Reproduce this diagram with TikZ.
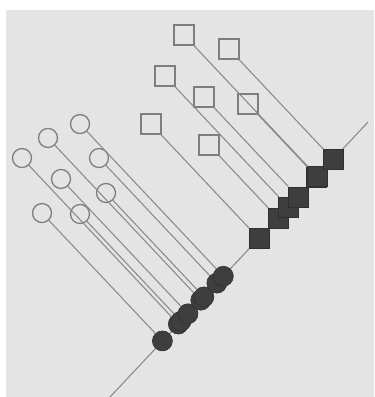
\documentclass[tikz,border=0pt]{standalone}
\begin{document}
\begin{tikzpicture}[x=1pt,y=-1.062pt,
  bg/.style={fill=bgray,draw=none},
  axisline/.style={draw=lgray,line width=1.1pt},
  proj/.style={draw=lgray,line width=1.1pt},
  opencirc/.style={circle,draw=mgray,line width=1.3pt,minimum size=19pt,inner sep=0pt},
  opensq/.style={rectangle,draw=mgray,line width=1.3pt,minimum size=20pt,inner sep=0pt},
  fullcirc/.style={circle,fill=dgray,draw=ddgray,line width=0.6pt,minimum size=20pt,inner sep=0pt},
  fullsq/.style={rectangle,fill=dgray,draw=ddgray,line width=0.6pt,minimum size=20pt,inner sep=0pt}]
\definecolor{bgray}{HTML}{E4E4E4}
\definecolor{lgray}{HTML}{8C8C8C}
\definecolor{mgray}{HTML}{7E7E7E}
\definecolor{dgray}{HTML}{3E3E3E}
\definecolor{ddgray}{HTML}{303030}
\useasboundingbox (0,0) rectangle (374,373.8);
\fill[bg] (6,9.4) rectangle (374,373.8);
% the 45-degree axis
\coordinate (a0) at (110,373.8);
\coordinate (a1) at (368,114.9);
\draw[axisline] (a0) -- (a1);
% open circles and their projections
\node[opencirc] (c1) at (80,116.8) {};
\node[opencirc] (c2) at (48,129.9) {};
\node[opencirc] (c3) at (22,148.8) {};
\node[opencirc] (c4) at (99,148.8) {};
\node[opencirc] (c5) at (61,168.5) {};
\node[opencirc] (c6) at (106,181.7) {};
\node[opencirc] (c7) at (42,200.6) {};
\node[opencirc] (c8) at (80,201.5) {};
\node[fullcirc] (p7) at (162.4,321) {};
\node[fullcirc] (p3) at (178.3,305.1) {};
\node[fullcirc] (p8) at (180.95,302.45) {};
\node[fullcirc] (p5) at (187.95,295.45) {};
\node[fullcirc] (p2) at (200.75,282.65) {};
\node[fullcirc] (p6) at (203.85,279.55) {};
\node[fullcirc] (p4) at (216.8,266.6) {};
\node[fullcirc] (p1) at (223.3,260.1) {};
% open squares and their projections
\node[opensq] (s1) at (184,33.0) {};
\node[opensq] (s2) at (229,46.1) {};
\node[opensq] (s3) at (165,71.6) {};
\node[opensq] (s4) at (204,91.3) {};
\node[opensq] (s5) at (248,97.9) {};
\node[opensq] (s6) at (151,116.8) {};
\node[opensq] (s7) at (209,136.5) {};
\node[fullsq] (q6) at (258.8,224.6) {};
\node[fullsq] (q7) at (277.95,205.45) {};
\node[fullsq] (q3) at (288.4,195) {};
\node[fullsq] (q4) at (298.05,185.35) {};
\node[fullsq] (q5) at (316.75,166.65) {};
\node[fullsq] (q1) at (317.2,166.2) {};
\node[fullsq] (q2) at (333.15,150.25) {};
% projection lines
\foreach \i in {1,...,8} \draw[proj] (c\i) -- (p\i);
\foreach \i in {1,...,7} \draw[proj] (s\i) -- (q\i);
\end{tikzpicture}
\end{document}
